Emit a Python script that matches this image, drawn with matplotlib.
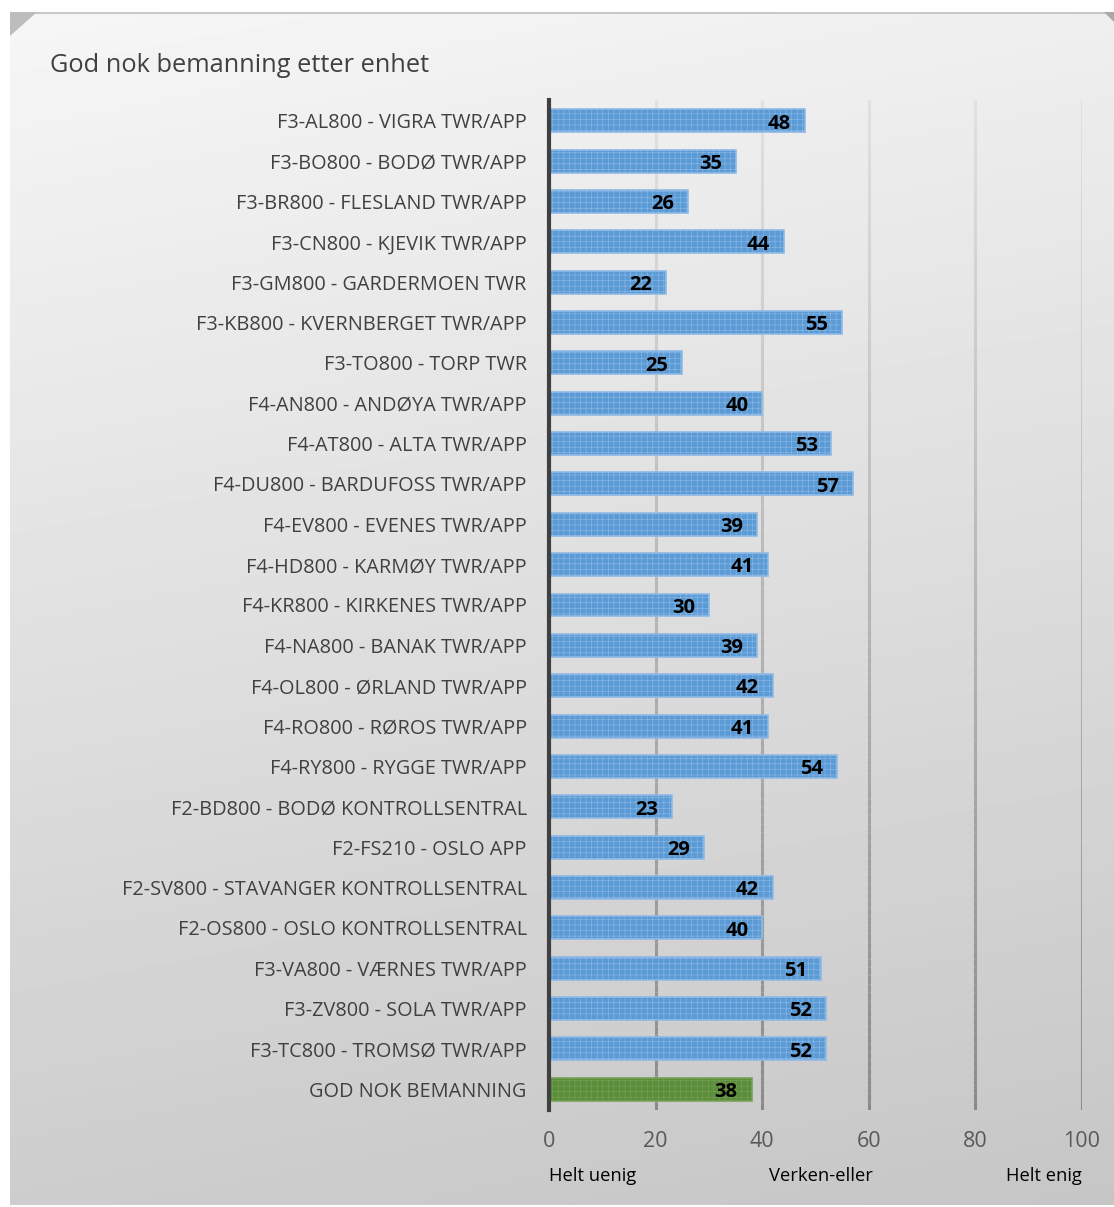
import numpy as np
import matplotlib
matplotlib.use('Agg')
import matplotlib.pyplot as plt
from matplotlib.collections import LineCollection
from matplotlib.patches import Polygon

plt.rcParams['font.family'] = ['Open Sans', 'DejaVu Sans']

title = 'God nok bemanning etter enhet'
units = [
    'F3-AL800 - VIGRA TWR/APP',
    'F3-BO800 - BODØ TWR/APP',
    'F3-BR800 - FLESLAND TWR/APP',
    'F3-CN800 - KJEVIK TWR/APP',
    'F3-GM800 - GARDERMOEN TWR',
    'F3-KB800 - KVERNBERGET TWR/APP',
    'F3-TO800 - TORP TWR',
    'F4-AN800 - ANDØYA TWR/APP',
    'F4-AT800 - ALTA TWR/APP',
    'F4-DU800 - BARDUFOSS TWR/APP',
    'F4-EV800 - EVENES TWR/APP',
    'F4-HD800 - KARMØY TWR/APP',
    'F4-KR800 - KIRKENES TWR/APP',
    'F4-NA800 - BANAK TWR/APP',
    'F4-OL800 - ØRLAND TWR/APP',
    'F4-RO800 - RØROS TWR/APP',
    'F4-RY800 - RYGGE TWR/APP',
    'F2-BD800 - BODØ KONTROLLSENTRAL',
    'F2-FS210 - OSLO APP',
    'F2-SV800 - STAVANGER KONTROLLSENTRAL',
    'F2-OS800 - OSLO KONTROLLSENTRAL',
    'F3-VA800 - VÆRNES TWR/APP',
    'F3-ZV800 - SOLA TWR/APP',
    'F3-TC800 - TROMSØ TWR/APP',
    'GOD NOK BEMANNING',
]
scores = [48, 35, 26, 44, 22, 55, 25, 40, 53, 57, 39, 41, 30, 39, 42, 41, 54,
          23, 29, 42, 40, 51, 52, 52, 38]
x_ticks = [0, 20, 40, 60, 80, 100]
scale_labels = ['Helt uenig', 'Verken-eller', 'Helt enig']

W, H = 1114, 1207
fig = plt.figure(figsize=(W / 100, H / 100), dpi=100)
fig.patch.set_facecolor('white')

# gradient panel behind everything
bg = fig.add_axes([10 / W, 2 / H, 1 - 10 / W, 1 - 14 / H], zorder=0)
yy, xx = np.mgrid[0:1:200j, 0:1:200j]
grad = 0.965 - 0.19 * (0.85 * yy + 0.15 * xx)
bg.imshow(grad, cmap='gray', vmin=0, vmax=1, aspect='auto',
          extent=[0, 1, 1, 0], interpolation='bilinear')
bg.set_xlim(0, 1)
bg.set_ylim(1, 0)
bg.axis('off')
bg.plot([0, 1], [0.001, 0.001], color='#c8c8c8', lw=1.5)
# folded corners
fig.patches.append(Polygon([(10 / W, 1 - 12 / H), (37 / W, 1 - 12 / H), (10 / W, 1 - 36 / H)],
                           closed=True, transform=fig.transFigure,
                           facecolor='#bdbdbd', edgecolor='none', zorder=1))
fig.patches.append(Polygon([(1104 / W, 1 - 12 / H), (1 - 0.5 / W, 1 - 12 / H), (1 - 0.5 / W, 1 - 22 / H)],
                           closed=True, transform=fig.transFigure,
                           facecolor='#a8a8a8', edgecolor='none', zorder=1))

fig.text(50 / W, 1 - 66 / H, title, fontsize=18.3, color='#404040',
         va='center', ha='left', zorder=3)

ax = fig.add_axes([549 / W, 1 - 1110 / H, (1082 - 549) / W, (1110 - 100) / H], zorder=2)
ax.patch.set_alpha(0)

n = len(units)
ypos = np.arange(n)

# gradient gridlines (light at top, darker toward bottom)
segs, cols = [], []
steps = 120
edges = np.linspace(-0.52, n - 0.48, steps + 1)
for xv in x_ticks[1:]:
    for k in range(steps):
        segs.append([(xv, edges[k]), (xv, edges[k + 1])])
        t = k / steps
        g = 0.88 - 0.34 * t
        cols.append((g, g, g))
ax.add_collection(LineCollection(segs, colors=cols, linewidths=2.2, zorder=1))

colors = ['#5b9bd5'] * (n - 1) + ['#5b8c3a']
plt.rcParams['hatch.linewidth'] = 0.4
bars = ax.barh(ypos, scores, height=0.57, color=colors, linewidth=1.2, zorder=2)
for b, c in zip(bars, colors):
    b.set_hatch('+++')
    b.set_edgecolor('#8fb9e6' if c == '#5b9bd5' else '#76a257')

for y, v in zip(ypos, scores):
    ax.text(v - 2.6, y + 0.07, f'{v}', ha='right', va='center', fontsize=14.5,
            fontweight='bold', color='black', zorder=4)

ax.set_ylim(n - 0.48, -0.52)
ax.set_xlim(0, 100)
ax.set_yticks(ypos)
ax.set_yticklabels(units, fontsize=14.3, color='#404040')
ax.set_xticks(x_ticks)
ax.set_xticklabels([str(t) for t in x_ticks], fontsize=15.5, color='#595959')
ax.tick_params(axis='y', length=0, pad=16)
ax.tick_params(axis='x', length=0, pad=15)
for s in ['top', 'right', 'bottom']:
    ax.spines[s].set_visible(False)
ax.spines['left'].set_color('#404040')
ax.spines['left'].set_linewidth(3)

ax.text(0, -0.065, scale_labels[0], transform=ax.get_xaxis_transform(),
        ha='left', va='center', fontsize=13.2, color='black')
ax.text(51, -0.065, scale_labels[1], transform=ax.get_xaxis_transform(),
        ha='center', va='center', fontsize=13.2, color='black')
ax.text(100, -0.065, scale_labels[2], transform=ax.get_xaxis_transform(),
        ha='right', va='center', fontsize=13.2, color='black')

fig.savefig('out.png', dpi=100)
